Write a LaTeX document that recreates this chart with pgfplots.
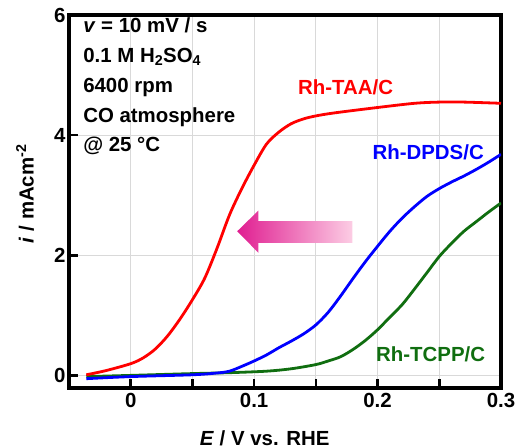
\documentclass[border=0pt]{standalone}
\usepackage{pgfplots}
\pgfplotsset{compat=1.18}
\usepackage{fontspec}
\setmainfont{Liberation Sans}
\usetikzlibrary{calc}

\definecolor{tccpgreen}{RGB}{16,110,16}
\definecolor{arrowdark}{RGB}{224,30,145}
\definecolor{arrowlight}{RGB}{252,205,228}

\newcommand{\lbl}{\bfseries\fontsize{20.5}{24}\selectfont}

\begin{document}
\begin{tikzpicture}
  \begin{axis}[
      scale only axis,
      width=432bp, height=373bp,
      xmin=-0.05, xmax=0.3,
      ymin=-0.21, ymax=6,
      xtick={0,0.1,0.2,0.3},
      minor xtick={-0.05,0.05,0.15,0.25},
      ytick={0,2,4,6},
      tick pos=left,
      tick align=inside,
      major tick length=9bp,
      minor tick length=9bp,
      every tick/.style={black, line width=2.5bp},
      grid=both,
      grid style={black!15, line width=1.2bp},
      minor grid style={black!15, line width=1.2bp},
      axis line style={line width=3.5bp},
      /pgf/number format/assume math mode=true,
      ticklabel style={font=\lbl},
      xticklabel style={yshift=-2bp},
      xlabel={\textit{E} / V vs. RHE},
      ylabel={\textit{i} / mAcm\textsuperscript{-2}},
      every axis x label/.style={at={(axis description cs:0.453,0)}, anchor=base, yshift=-57bp, font=\lbl},
      every axis y label/.style={at={(axis description cs:0,0.521)}, rotate=90, anchor=center, yshift=44bp, font=\lbl},
    ]

    % arrow (shifts towards lower potential)
    \shade[left color=arrowdark, right color=arrowlight]
      (axis cs:0.0863,2.40) -- (axis cs:0.1035,2.745) -- (axis cs:0.1035,2.567)
      -- (axis cs:0.1796,2.567) -- (axis cs:0.1796,2.207) -- (axis cs:0.1035,2.207)
      -- (axis cs:0.1035,2.04) -- cycle;

    % Rh-TCPP/C
    \addplot[tccpgreen, line width=2.8bp, smooth] coordinates {
      (-0.036,-0.02) (0,0.0) (0.05,0.03) (0.08,0.045) (0.11,0.07)
      (0.13,0.11) (0.15,0.18) (0.16,0.24) (0.17,0.31) (0.18,0.43)
      (0.19,0.58) (0.2,0.76) (0.21,0.97) (0.22,1.18) (0.23,1.44)
      (0.24,1.71) (0.25,1.98) (0.26,2.2) (0.27,2.40) (0.28,2.56)
      (0.29,2.72) (0.3,2.87)
    };

    % Rh-DPDS/C
    \addplot[blue, line width=2.8bp, smooth] coordinates {
      (-0.036,-0.055) (0,-0.02) (0.05,0.01) (0.07,0.04) (0.08,0.07)
      (0.09,0.15) (0.1,0.24) (0.11,0.34) (0.12,0.46) (0.13,0.57)
      (0.14,0.69) (0.15,0.84) (0.16,1.05) (0.17,1.32) (0.18,1.61)
      (0.19,1.89) (0.2,2.15) (0.21,2.40) (0.22,2.62) (0.23,2.81)
      (0.24,2.98) (0.25,3.11) (0.26,3.22) (0.27,3.32) (0.28,3.43)
      (0.29,3.55) (0.3,3.68)
    };

    % Rh-TAA/C
    \addplot[red, line width=2.8bp, smooth] coordinates {
      (-0.036,0.01) (-0.02,0.08) (0,0.195) (0.01,0.29) (0.02,0.44)
      (0.03,0.66) (0.04,0.94) (0.05,1.26) (0.06,1.62) (0.07,2.12)
      (0.08,2.67) (0.09,3.11) (0.1,3.50) (0.11,3.85) (0.12,4.05)
      (0.13,4.19) (0.14,4.27) (0.15,4.32) (0.165,4.37) (0.2,4.46)
      (0.23,4.53) (0.25,4.55) (0.27,4.55) (0.3,4.53)
    };

    \node[red, font=\lbl] at (axis cs:0.1741,4.795) {Rh-TAA/C};
    \node[blue, font=\lbl] at (axis cs:0.241,3.71) {Rh-DPDS/C};
    \node[tccpgreen, font=\lbl] at (axis cs:0.243,0.345) {Rh-TCPP/C};

    \node[anchor=base west, inner sep=0, font=\lbl] at (axis cs:-0.0386,5.707) {\textit{v} = 10 mV / s};
    \node[anchor=base west, inner sep=0, font=\lbl] at (axis cs:-0.0386,5.215) {0.1 M H\textsubscript{2}SO\textsubscript{4}};
    \node[anchor=base west, inner sep=0, font=\lbl] at (axis cs:-0.0386,4.717) {6400 rpm};
    \node[anchor=base west, inner sep=0, font=\lbl] at (axis cs:-0.0386,4.212) {CO atmosphere};
    \node[anchor=base west, inner sep=0, font=\lbl] at (axis cs:-0.0386,3.733) {@ 25 °C};
  \end{axis}
  \pgfresetboundingbox
  \path[use as bounding box] ($(current axis.south west)+(-69bp,-60bp)$) rectangle ($(current axis.north east)+(15bp,15bp)$);
\end{tikzpicture}
\end{document}
